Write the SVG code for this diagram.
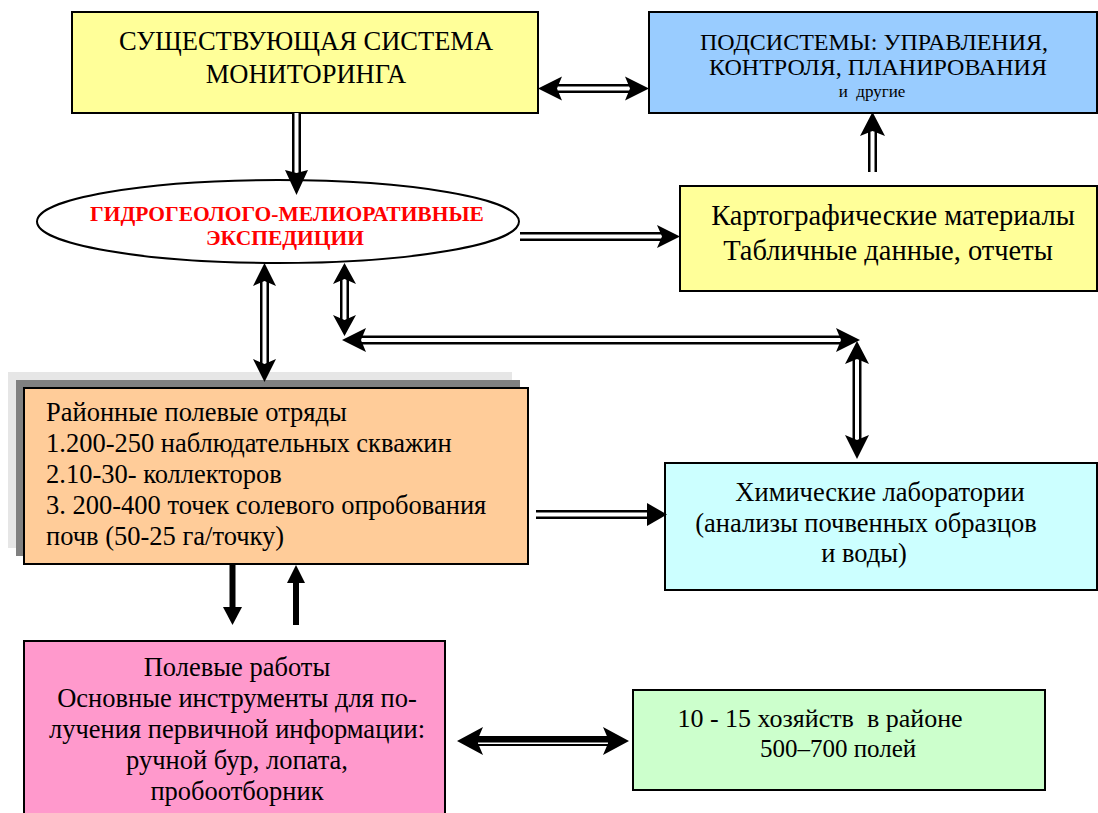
<svg xmlns="http://www.w3.org/2000/svg" width="1098" height="813" viewBox="0 0 1098 813">
<style>
.box{stroke:#000;stroke-width:2}
.t{fill:#000}
.c{text-anchor:middle}
.dl{stroke:#000;stroke-width:9;fill:none}
.dw{stroke:#fff;stroke-width:4;fill:none}
.sl{stroke:#000;stroke-width:6;fill:none}
.h{fill:#000}
</style>
<rect width="1098" height="813" fill="#fff"/>
<g font-family="'Liberation Serif', 'Times New Roman', serif">
<g id="node-monitoring">
<rect class="box" x="72" y="12" width="466" height="101" fill="#FFFF99"/>
<text class="t c" x="306" y="50" font-size="26.5">СУЩЕСТВУЮЩАЯ СИСТЕМА</text>
<text class="t c" x="306" y="83" font-size="26.5">МОНИТОРИНГА</text>
</g>
<g id="node-subsystems">
<rect class="box" x="649" y="12" width="448" height="101" fill="#99CCFF"/>
<text class="t c" x="874" y="50" font-size="24">ПОДСИСТЕМЫ: УПРАВЛЕНИЯ,</text>
<text class="t c" x="878" y="75" font-size="24">КОНТРОЛЯ, ПЛАНИРОВАНИЯ</text>
<text class="t c" x="872" y="97" font-size="17" xml:space="preserve">и  другие</text>
</g>
<g id="node-expeditions">
<ellipse cx="278" cy="221.5" rx="241" ry="41.5" fill="#fff" stroke="#000" stroke-width="2"/>
<text class="c" x="287" y="221" font-size="21.5" font-weight="bold" fill="#FF0000">ГИДРОГЕОЛОГО-МЕЛИОРАТИВНЫЕ</text>
<text class="c" x="285" y="245" font-size="21.5" font-weight="bold" fill="#FF0000">ЭКСПЕДИЦИИ</text>
</g>
<g id="node-materials">
<rect class="box" x="680" y="186" width="417" height="105" fill="#FFFF99"/>
<text class="t c" x="893" y="225" font-size="28.5">Картографические материалы</text>
<text class="t c" x="888" y="260" font-size="28.5">Табличные данные, отчеты</text>
</g>
<g id="node-field-units">
<rect x="8" y="372" width="504" height="176" fill="#E6E6E6"/>
<rect x="16" y="380" width="504" height="176" fill="#808080"/>
<rect class="box" x="24" y="388" width="504" height="176" fill="#FFCC99"/>
<text class="t" x="46" y="421" font-size="26.5">Районные полевые отряды</text>
<text class="t" x="46" y="452" font-size="26.5">1.200-250 наблюдательных скважин</text>
<text class="t" x="46" y="483" font-size="26.5">2.10-30- коллекторов</text>
<text class="t" x="46" y="514" font-size="26.5">3. 200-400 точек солевого опробования</text>
<text class="t" x="46" y="545" font-size="26.5">почв (50-25 га/точку)</text>
</g>
<g id="node-labs">
<rect class="box" x="665" y="463" width="432" height="127" fill="#CCFFFF"/>
<text class="t c" x="880" y="501" font-size="26.5">Химические лаборатории</text>
<text class="t c" x="866" y="532" font-size="26.5">(анализы почвенных образцов</text>
<text class="t c" x="864" y="562" font-size="26.5">и воды)</text>
</g>
<g id="node-fieldwork">
<rect class="box" x="24" y="641" width="421" height="180" fill="#FF99CC"/>
<text class="t c" x="237" y="676" font-size="26.5">Полевые работы</text>
<text class="t c" x="237" y="707" font-size="26.5">Основные инструменты для по-</text>
<text class="t c" x="237" y="738" font-size="26.5">лучения первичной информации:</text>
<text class="t c" x="237" y="769" font-size="26.5">ручной бур, лопата,</text>
<text class="t c" x="237" y="800" font-size="26.5">пробоотборник</text>
</g>
<g id="node-farms">
<rect class="box" x="633" y="690" width="412" height="100" fill="#CCFFCC"/>
<text class="t c" x="820" y="727" font-size="26" xml:space="preserve">10 - 15 хозяйств  в районе</text>
<text class="t c" x="838" y="757" font-size="25">500–700 полей</text>
</g>
</g>
<g id="connectors">
<path class="dl" d="M296.5 113 V173"/><path class="dw" d="M296.5 113 V173"/>
<path class="h" d="M296.5 195 L285 170 L296.5 173 L308 170 Z"/>
<path class="dl" d="M558 88.5 H630"/><path class="dw" d="M558 88.5 H630"/>
<path class="h" d="M538 88.5 L562 76.5 L557 88.5 L562 100.5 Z"/>
<path class="h" d="M649 88.5 L625 76.5 L630 88.5 L625 100.5 Z"/>
<path class="dl" d="M872.5 172 V132"/><path class="dw" d="M872.5 172 V132"/>
<path class="h" d="M872.5 112 L860 136 L872.5 131 L885 136 Z"/>
<path class="dl" d="M520 236.5 H662"/><path class="dw" d="M520 236.5 H662"/>
<path class="h" d="M680 236.5 L657 225 L662 236.5 L657 248 Z"/>
<path class="dl" d="M264.5 280 V364"/><path class="dw" d="M264.5 280 V364"/>
<path class="h" d="M264.5 263 L253 286 L264.5 281 L276 286 Z"/>
<path class="h" d="M264.5 382 L253 359 L264.5 364 L276 359 Z"/>
<path class="dl" d="M344.5 279 V320"/><path class="dw" d="M344.5 279 V320"/>
<path class="h" d="M344.5 263 L333 284 L344.5 279 L356 284 Z"/>
<path class="h" d="M344.5 336 L333 315 L344.5 320 L356 315 Z"/>
<path class="dl" d="M361 340 H841"/><path class="dw" d="M361 340 H841"/>
<path class="h" d="M342 340 L366 328 L361 340 L366 352 Z"/>
<path class="h" d="M860 340 L836 328 L841 340 L836 352 Z"/>
<path class="dl" d="M857 359 V440"/><path class="dw" d="M857 359 V440"/>
<path class="h" d="M857 341 L845 364 L857 359 L869 364 Z"/>
<path class="h" d="M857 459 L845 435 L857 440 L869 435 Z"/>
<path class="dl" d="M536 514.5 H650"/><path class="dw" d="M536 514.5 H650"/>
<path class="h" d="M667 514.5 L647 503 L647 526 Z"/>
<path class="sl" d="M232.5 565 V609"/>
<path class="h" d="M232.5 625 L223 607 L242 607 Z"/>
<path class="sl" d="M296 625 V581"/>
<path class="h" d="M296 565 L287 583 L305 583 Z"/>
<path stroke="#000" stroke-width="10" fill="none" d="M476 741 H610"/><path stroke="#fff" stroke-width="1.6" fill="none" d="M478 743.2 H608"/>
<path class="h" d="M457 741 L483 727 L477 741 L483 755 Z"/>
<path class="h" d="M629 741 L603 727 L609 741 L603 755 Z"/>
</g>
</svg>
